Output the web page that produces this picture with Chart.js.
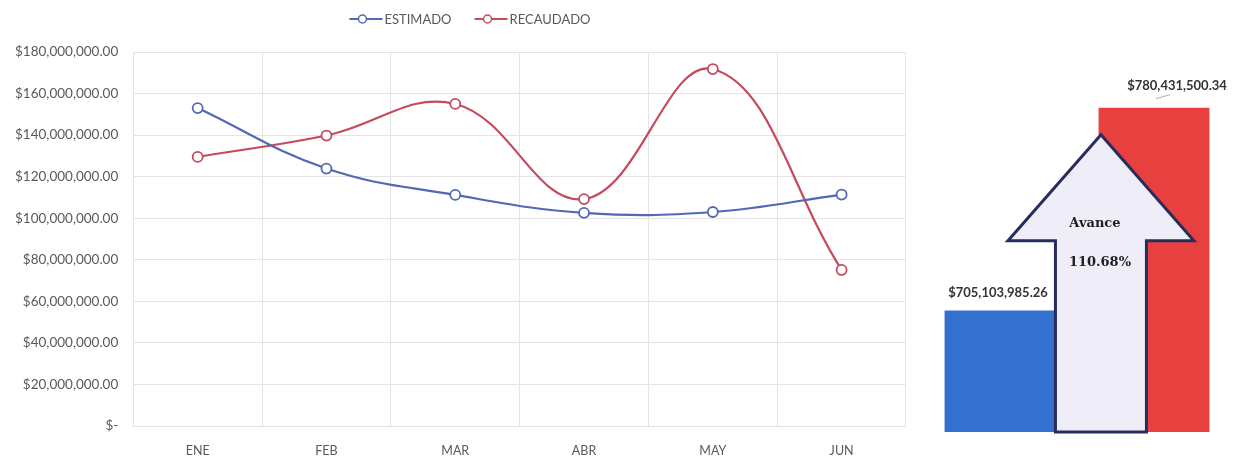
<!DOCTYPE html>
<html>
<head>
<meta charset="utf-8">
<script src="https://cdn.jsdelivr.net/npm/chart.js@4.4.1/dist/chart.umd.min.js"></script>
<style>
    body { margin: 0; background: #ffffff; }
    #lineChart { position: absolute; left: 0; top: 0; }
    #totalChart { position: absolute; left: 900px; top: 0; }
</style>
</head>
<body>
<canvas id="lineChart" width="930" height="460"></canvas>
<canvas id="totalChart" width="351" height="460"></canvas>
<script>
const months = ["ENE", "FEB", "MAR", "ABR", "MAY", "JUN"]
const estimado = [153000000, 123900000, 111200000, 102600000, 103000000, 111400000]
const recaudado = [129500000, 139800000, 155000000, 109200000, 171800000, 75100000]
const yTicks = [0, 20000000, 40000000, 60000000, 80000000, 100000000, 120000000, 140000000, 160000000, 180000000]
const totalLabels = ["ESTIMADO", "RECAUDADO"]
const totals = [705103985.26, 780431500.34]

const blue = "#5169b3"
const red = "#c44a5c"
const gray = "#595959"

function money(v){
    if (v == 0) return "$-"
    return "$" + v.toLocaleString("en-US", {minimumFractionDigits: 2, maximumFractionDigits: 2})
}

// legend drawn by hand so the marker has the line through it, like excel
const lineLegend = {
    id: "lineLegend",
    afterDraw(chart){
        const ctx = chart.ctx
        ctx.save()
        ctx.font = "13px Lato"
        ctx.textBaseline = "middle"
        const items = chart.data.datasets.map(ds => ({text: ds.label, color: ds.borderColor}))
        const gap = 23
        let total = 0
        items.forEach(it => { it.w = 35 + ctx.measureText(it.text).width; total += it.w })
        total += gap * (items.length - 1)
        let x = 470 - total / 2
        const y = 19
        items.forEach(it => {
            ctx.strokeStyle = it.color
            ctx.lineWidth = 2
            ctx.beginPath()
            ctx.moveTo(x, y)
            ctx.lineTo(x + 33, y)
            ctx.stroke()
            ctx.beginPath()
            ctx.arc(x + 13, y, 4, 0, Math.PI * 2)
            ctx.fillStyle = "#ffffff"
            ctx.fill()
            ctx.lineWidth = 1.5
            ctx.stroke()
            ctx.fillStyle = gray
            ctx.fillText(it.text, x + 35, y + 1)
            x += it.w + gap
        })
        ctx.restore()
    }
}

new Chart(document.getElementById("lineChart"), {
    type: "line",
    data: {
        labels: months,
        datasets: [{
            label: "ESTIMADO",
            data: estimado,
            borderColor: blue,
            borderWidth: 2.2,
            tension: 0.4,
            pointRadius: 5,
            pointBorderWidth: 1.8,
            pointBackgroundColor: "#ffffff",
            pointBorderColor: blue
        }, {
            label: "RECAUDADO",
            data: recaudado,
            borderColor: red,
            borderWidth: 2.2,
            tension: 0.4,
            pointRadius: 5,
            pointBorderWidth: 1.8,
            pointBackgroundColor: "#ffffff",
            pointBorderColor: red
        }]
    },
    options: {
        responsive: false,
        animation: false,
        layout: { padding: { top: 52, right: 24, bottom: -15, left: 0 } },
        plugins: {
            legend: { display: false },
            tooltip: { enabled: false }
        },
        scales: {
            x: {
                offset: true,
                grid: { offset: true, color: "#e4e4e4", drawTicks: false },
                border: { display: false },
                ticks: { color: gray, font: { family: "Lato", size: 12.5 }, padding: 17 }
            },
            y: {
                min: yTicks[0],
                max: yTicks[yTicks.length - 1],
                afterBuildTicks(axis){ axis.ticks = yTicks.map(v => ({value: v})) },
                grid: { color: "#e4e4e4", drawTicks: false },
                border: { display: false },
                ticks: {
                    color: gray,
                    font: { family: "Lato", size: 13.5 },
                    padding: 15,
                    callback: v => money(v)
                }
            }
        }
    },
    plugins: [lineLegend]
})

// arrow + value labels over the two total bars
const arrowPlugin = {
    id: "arrowPlugin",
    afterDatasetsDraw(chart){
        const ctx = chart.ctx
        const bars = chart.getDatasetMeta(0).data
        const b = bars[0], r = bars[1]
        const base = chart.chartArea.bottom
        const left = b.x + b.width / 2
        const right = left + 91
        const cx = (left + right) / 2
        const tipY = r.y + 27
        const headY = tipY + 106
        const half = 93

        ctx.save()
        ctx.beginPath()
        ctx.moveTo(cx, tipY)
        ctx.lineTo(cx + half, headY)
        ctx.lineTo(right, headY)
        ctx.lineTo(right, base)
        ctx.lineTo(left, base)
        ctx.lineTo(left, headY)
        ctx.lineTo(cx - half, headY)
        ctx.closePath()
        ctx.fillStyle = "#eeedf8"
        ctx.fill()
        ctx.lineWidth = 3
        ctx.lineJoin = "miter"
        ctx.strokeStyle = "#262d5c"
        ctx.stroke()

        ctx.fillStyle = "#1e1e1e"
        ctx.textAlign = "center"
        ctx.textBaseline = "middle"
        ctx.font = "bold 13px 'DejaVu Serif'"
        ctx.fillText("Avance", cx - 6, headY - 17)
        const pct = (totals[1] / totals[0] * 100).toFixed(2) + "%"
        ctx.fillText(pct, cx - 1, headY + 22)

        ctx.font = "bold 13px Lato"
        ctx.fillStyle = "#333333"
        ctx.fillText(money(totals[0]), b.x - 2, b.y - 18)
        ctx.fillText(money(totals[1]), r.x + 23, r.y - 22)

        ctx.strokeStyle = "#b0b0b0"
        ctx.lineWidth = 1
        ctx.beginPath()
        ctx.moveTo(r.x + 2, r.y - 9)
        ctx.lineTo(r.x + 16, r.y - 13)
        ctx.stroke()
        ctx.restore()
    }
}

new Chart(document.getElementById("totalChart"), {
    type: "bar",
    data: {
        labels: totalLabels,
        datasets: [{
            data: totals,
            backgroundColor: ["#3470cf", "#e8403f"],
            barPercentage: 0.72,
            categoryPercentage: 1
        }]
    },
    options: {
        responsive: false,
        animation: false,
        layout: { padding: { top: 55, right: 20, bottom: 28, left: 23 } },
        plugins: {
            legend: { display: false },
            tooltip: { enabled: false }
        },
        scales: {
            x: { display: false },
            y: { display: false, min: 660000000, max: 800000000 }
        }
    },
    plugins: [arrowPlugin]
})
</script>
</body>
</html>
